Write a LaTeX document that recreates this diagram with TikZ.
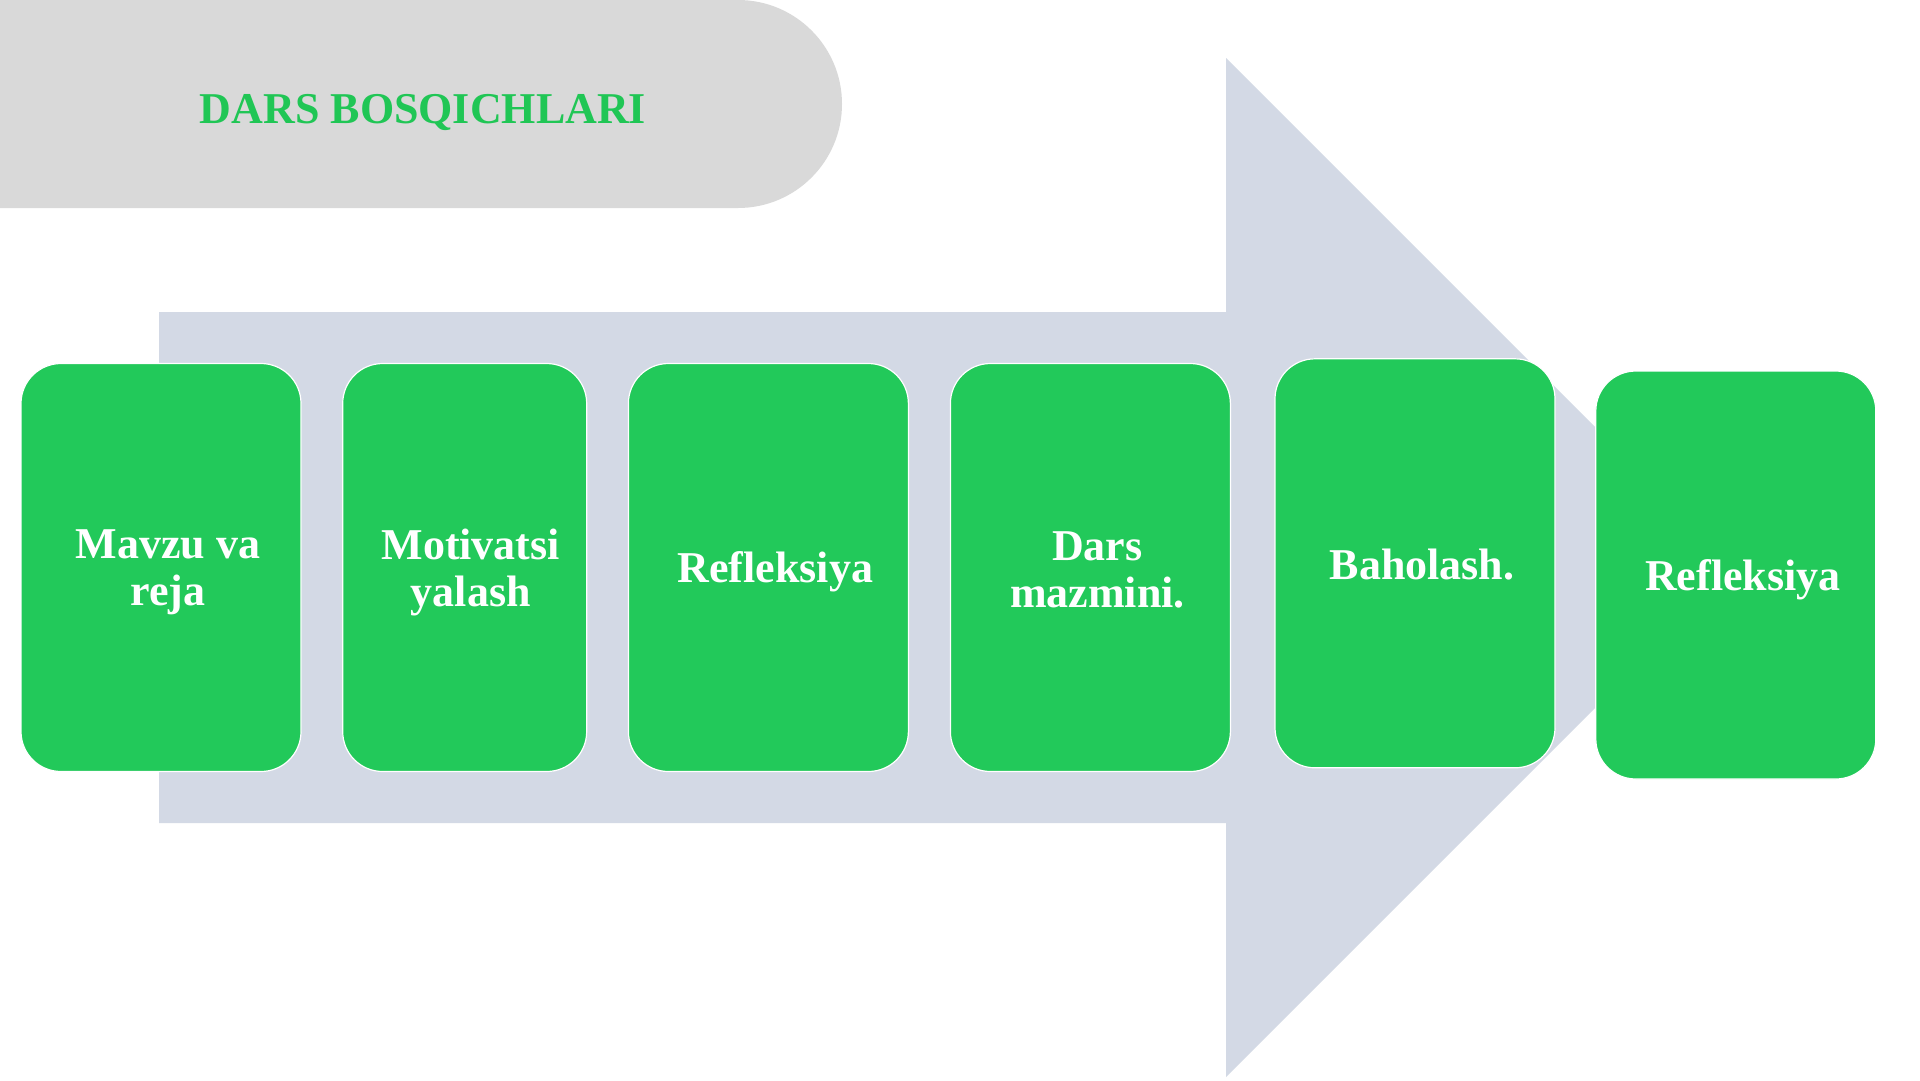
\documentclass[tikz,border=0pt]{standalone}
\usepackage{fontspec}
\setmainfont{Liberation Serif}
\definecolor{stepgreen}{HTML}{22C95A}
\definecolor{titlegreen}{HTML}{20C655}
\definecolor{pillgray}{HTML}{D9D9D9}
\definecolor{arrowgray}{HTML}{D3D9E5}
\tikzset{
  stagebox/.style={rectangle, rounded corners=40pt, fill=stepgreen, draw=white,
    line width=1.2pt, minimum width=280pt, minimum height=408pt, inner sep=0pt},
  stagetext/.style={text=white, align=center, inner sep=0pt,
    font=\fontsize{44}{47}\selectfont\bfseries},
  titletext/.style={text=titlegreen, font=\fontsize{44}{48}\selectfont\bfseries}
}
\begin{document}
\begin{tikzpicture}[x=1pt,y=-1pt]
\useasboundingbox (0,0) rectangle (1920,1080);
\clip (0,0) rectangle (1920,1080);
\fill[white] (0,0) rectangle (1920,1080);
% title pill
\fill[pillgray, rounded corners=104pt] (-300,0) rectangle (842,208);
\node[titletext] (title) at (423,112) {DARS BOSQICHLARI};
% big arrow
\fill[arrowgray] (159,312) -- (1226,312) -- (1226,58) -- (1735.5,567.5)
  -- (1226,1077) -- (1226,823) -- (159,823) -- cycle;
% stages
\node[stagebox] (s1) at (161,567.5) {};
\node[stagebox, minimum width=244pt] (s2) at (464.7,567.5) {};
\node[stagebox] (s3) at (768.4,567.5) {};
\node[stagebox] (s4) at (1090.4,567.5) {};
\node[stagebox, minimum height=409pt] (s5) at (1415,563.3) {};
\node[stagebox] (s6) at (1735.8,575) {};
\node[stagetext] (t1) at ([xshift=7pt,yshift=-5pt]s1.center) {Mavzu va\\reja};
\node[stagetext] (t2) at ([xshift=6pt,yshift=-5pt]s2.center) {Motivatsi\\yalash};
\node[stagetext] (t3) at ([xshift=7pt,yshift=-4pt]s3.center) {Refleksiya};
\node[stagetext] (t4) at ([xshift=7pt,yshift=-2pt]s4.center) {Dars\\mazmini.};
\node[stagetext] (t5) at ([xshift=7pt,yshift=-1pt]s5.center) {Baholash.};
\node[stagetext] (t6) at ([xshift=7pt,yshift=-5pt]s6.center) {Refleksiya};
\end{tikzpicture}
\end{document}
